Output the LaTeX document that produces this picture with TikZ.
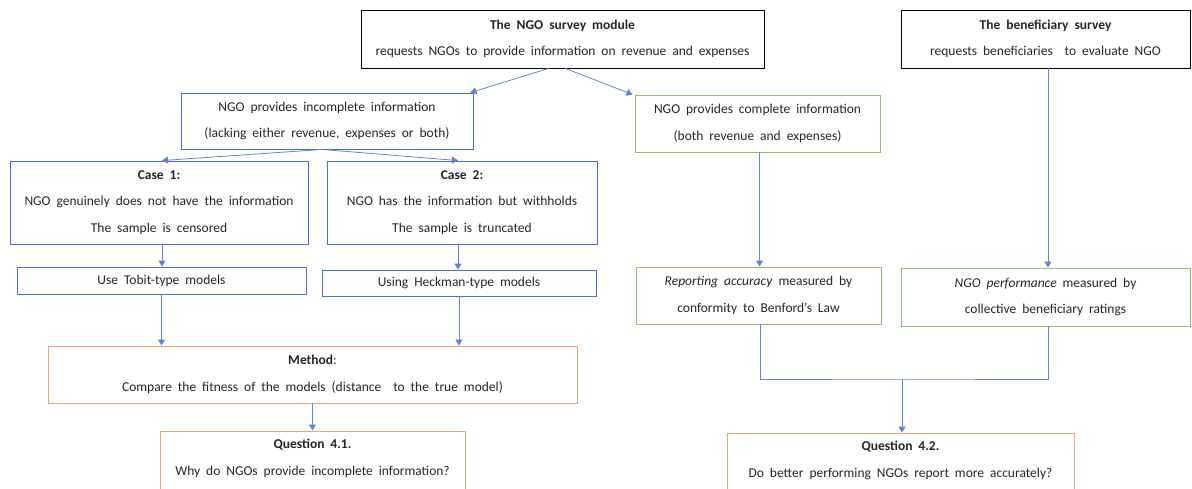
\documentclass[tikz,border=0pt]{standalone}
\usepackage{fontspec}
\setmainfont{Carlito}
\usetikzlibrary{arrows.meta,calc}
\definecolor{myblue}{HTML}{4472C4}
\definecolor{mygreen}{HTML}{8CC06A}
\definecolor{myorange}{HTML}{F2A46E}
\newcommand{\fsz}{\fontsize{13.5}{26.5}\selectfont\spaceskip=0.44em plus 0.1em\relax}
\tikzset{
  base/.style={draw, rectangle, align=center, font=\fsz, inner sep=0pt, line width=0.9pt, text=black!85},
  blk/.style={base, draw=black, line width=0.9pt},
  blu/.style={base, draw=myblue},
  grn/.style={base, draw=mygreen},
  org/.style={base, draw=myorange},
  arr/.style={draw=myblue!85, line width=0.8pt, -{Triangle[length=6pt,width=7pt]}},
  ln/.style={draw=myblue!85, line width=0.8pt},
}
\begin{document}
\begin{tikzpicture}[x=1pt,y=-1pt]
\useasboundingbox (0,0) rectangle (1192,488);
\clip (0,0) rectangle (1192,488);
\fill[white] (0,0) rectangle (1192,488);
% top row
\node[blk, minimum width=403, minimum height=58] (ngo) at (562.5,39)
  {\textbf{The NGO survey module}\\requests NGOs to provide information on revenue and expenses};
\node[blk, minimum width=289, minimum height=58] (ben) at (1045.5,39)
  {\textbf{The beneficiary survey}\\requests beneficiaries~ to evaluate NGO};
% second row
\node[blu, minimum width=292, minimum height=56] (inc) at (327,121)
  {NGO provides incomplete information\\(lacking either revenue, expenses or both)};
\node[grn, minimum width=245, minimum height=57] (comp) at (757.5,123.5)
  {NGO provides complete information\\(both revenue and expenses)};
% cases
\node[blu, minimum width=298, minimum height=83] (c1) at (159,202.5)
  {\textbf{Case 1:}\\NGO genuinely does not have the information\\The sample is censored};
\node[blu, minimum width=270, minimum height=83] (c2) at (462,202.5)
  {\textbf{Case 2:}\\NGO has the information but withholds\\The sample is truncated};
% models
\node[blu, minimum width=289, minimum height=27] (tob) at (161.5,280.5)
  {Use Tobit-type models};
\node[blu, minimum width=274, minimum height=26] (hec) at (459,283)
  {Using Heckman-type models};
\node[grn, minimum width=245, minimum height=57] (rep) at (758.5,295.5)
  {\textit{Reporting accuracy} measured by\\conformity to Benford's Law};
\node[grn, minimum width=289, minimum height=58] (perf) at (1045.5,297)
  {\textit{NGO performance} measured by\\collective beneficiary ratings};
% method
\node[org, minimum width=529, minimum height=57] (meth) at (312.5,374.5)
  {\textbf{Method}:\\Compare the fitness of the models (distance~ to the true model)};
% questions
\node[org, minimum width=305, minimum height=74, text depth=22pt] (q1) at (312.5,468)
  {\textbf{Question 4.1.}\\Why do NGOs provide incomplete information?};
\node[org, minimum width=347, minimum height=74, text depth=22pt] (q2) at (900.5,470)
  {\textbf{Question 4.2.}\\Do better performing NGOs report more accurately?};
% connectors
\draw[arr] ($(ngo.south)+(-14,0)$) -- ($(inc.north east)+(-3,0)$);
\draw[arr] ($(ngo.south)+(3,0)$) -- ($(comp.north west)+(-2,0)$);
\draw[arr] ($(inc.south)+(-5,0)$) -- ($(c1.north)+(3,0)$);
\draw[arr] ($(inc.south)+(-5,0)$) -- ($(c2.north)+(-4,0)$);
\draw[arr] ($(c1.south)+(3,0)$) -- ($(tob.north)+(0.5,0)$);
\draw[arr] ($(c2.south)+(-4,0)$) -- ($(hec.north)+(-1,0)$);
\draw[arr] (tob.south) -- (tob.south |- meth.north);
\draw[arr] (hec.south) -- (hec.south |- meth.north);
\draw[arr] (meth.south) -- (q1.north);
\draw[arr] ($(comp.south)+(2,0)$) -- ($(rep.north)+(1,0)$);
\draw[arr] ($(ben.south)+(2.5,0)$) -- ($(perf.north)+(2.5,0)$);
\coordinate (j) at (902,379);
\draw[ln] ($(rep.south)+(1.5,0)$) |- (j) -| ($(perf.south)+(2.5,0)$);
\draw[arr] (j) -- (j |- q2.north);
\end{tikzpicture}
\end{document}
